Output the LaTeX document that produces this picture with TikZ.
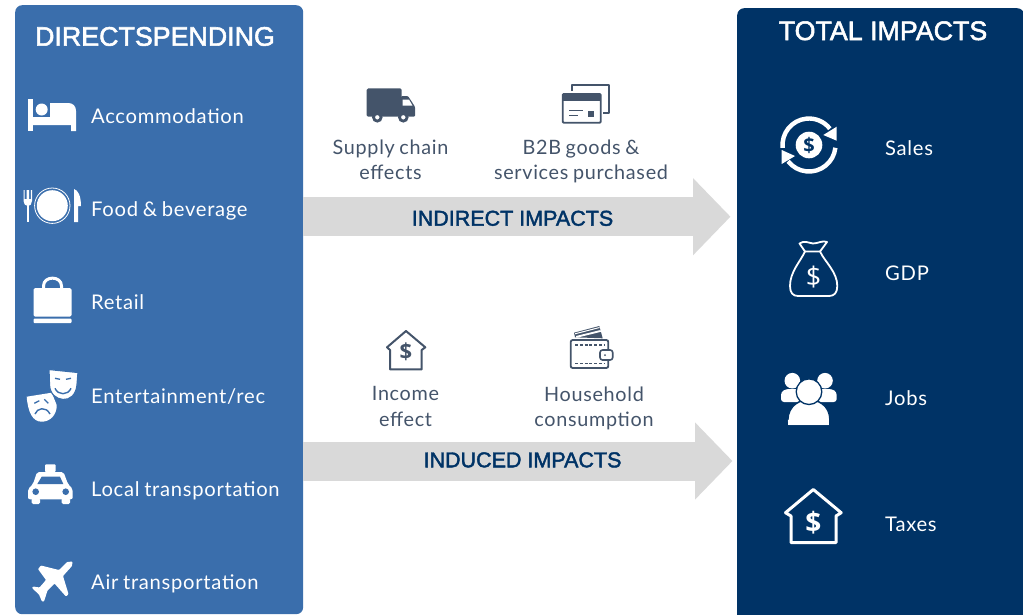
\documentclass[tikz,border=0pt]{standalone}
\usepackage{fontspec}
\usetikzlibrary{arrows.meta}
\setmainfont{Lato}
\newfontfamily\labelfont[LetterSpace=3.5,WordSpace=0.8]{Lato}
\newfontfamily\headfont[FakeBold=2]{Liberation Sans}
\newfontfamily\coinfont{Open Sans}
\definecolor{directblue}{HTML}{3A6EAC}
\definecolor{totalnavy}{HTML}{003366}
\definecolor{slategrey}{HTML}{44546A}
\definecolor{arrowgrey}{HTML}{D9D9D9}
\tikzset{
  panel/.style={rounded corners=7pt,anchor=north west,inner sep=0pt},
  spendlabel/.style={anchor=base west,inner sep=0pt,text=white,font=\labelfont\fontsize{20.2}{25}\selectfont},
  midlabel/.style={anchor=center,inner sep=0pt,align=center,text=slategrey,font=\labelfont\fontsize{19.8}{25.5}\selectfont},
  headtext/.style={anchor=base,inner sep=0pt,font=\headfont\fontsize{26.8}{30}\selectfont,text=white},
  impacttext/.style={anchor=base,inner sep=0pt,font=\headfont\fontsize{21.5}{26}\selectfont,text=totalnavy},
  impactarrow/.style={line width=39pt,draw=arrowgrey,-{Triangle[length=37.5pt,width=75pt,fill=arrowgrey]}},
  dollar/.style={inner sep=0pt,font=\coinfont},
  whiteline/.style={draw=white,fill=none,line width=#1,line join=round},
  slateline/.style={draw=slategrey,fill=none,line width=#1,line join=round},
}
\begin{document}
\begin{tikzpicture}[x=1pt,y=-1pt]
\useasboundingbox (0,0) rectangle (1023,614);
%Panels
\node[panel,fill=directblue,minimum width=288pt,minimum height=609pt] (direct) at (15,5) {};
\node[panel,fill=totalnavy,minimum width=287pt,minimum height=630pt] (total) at (737,8) {};
\node[headtext] (directhead) at (155,45.7) {DIRECTSPENDING};
\node[headtext] (totalhead) at (883,40) {TOTAL IMPACTS};
%Impact arrows
\coordinate (indirectend) at (730.5,216.7);
\coordinate (inducedend) at (732.5,461);
\draw[impactarrow] (direct.east |- indirectend) -- (indirectend);
\draw[impactarrow] (direct.east |- inducedend) -- (inducedend);
\node[impacttext] (indirect) at (512.5,225.7) {INDIRECT IMPACTS};
\node[impacttext] (induced) at (522.5,467.3) {INDUCED IMPACTS};
%Direct spending labels
\node[spendlabel] (accom) at (91,123) {Accommodation};
\node[spendlabel] (food) at (91,216) {Food \& beverage};
\node[spendlabel] (retail) at (91,309) {Retail};
\node[spendlabel] (enter) at (91,403.2) {Entertainment/rec};
\node[spendlabel] (local) at (91,496.2) {Local transportation};
\node[spendlabel] (air) at (91,589) {Air transportation};
%Total labels
\node[spendlabel] (sales) at (885,155) {Sales};
\node[spendlabel] (gdp) at (885,280) {GDP};
\node[spendlabel] (jobs) at (885,405) {Jobs};
\node[spendlabel] (taxes) at (885,531) {Taxes};
%Middle labels
\node[midlabel] (supply) at (390.5,160) {Supply chain\\effects};
\node[midlabel] (btob) at (581,161.5) {B2B goods \&\\services purchased};
\node[midlabel] (income) at (405.5,406.7) {Income\\effect};
\node[midlabel] (house) at (594,408.2) {Household\\consumption};
%Bed
\fill[white] (28.3,99) rectangle (32.5,131);
\fill[white] (32.5,117) -- (50,117) -- (50,103) -- (68,103) .. controls (73,103) and (76,106) .. (76,111) -- (76,131) -- (71,131) -- (71,125) -- (32.5,125) -- cycle;
\fill[white] (41.7,109.5) circle (6);
%Fork plate knife
\fill[white] (26.5,205) rectangle (29,222);
\fill[white] (23.5,190) -- (24.7,190) -- (24.7,199) -- (26.5,199) -- (26.5,190) -- (29,190) -- (29,199) -- (30.8,199) -- (30.8,190) -- (32,190) -- (32,201) .. controls (32,204) and (30,206) .. (28,206) .. controls (25.5,206) and (23.5,204) .. (23.5,201) -- cycle;
\draw[whiteline=0.8pt] (52.3,205.7) circle (17.7);
\fill[white] (52.3,205.7) circle (15.5);
\fill[white] (74,189) .. controls (78,190) and (81,196) .. (81,206) -- (78,206) -- (78,222) -- (74,222) -- cycle;
%Bag
\draw[whiteline=3pt] (43.5,289) -- (43.5,286) .. controls (43.5,275.5) and (61.5,275.5) .. (61.5,286) -- (61.5,289);
\fill[white,rounded corners=1.5pt] (33.5,288) rectangle (71.5,316.5);
\fill[white,rounded corners=1pt] (33.5,318.5) rectangle (71.5,323);
%Masks
\fill[white] (26.7,396.7) -- (51.7,392.7) -- (56.7,405) .. controls (57,415) and (50,421.7) .. (41.7,421.7) .. controls (33,421.7) and (28,413) .. (26.7,396.7) -- cycle;
\draw[directblue,line width=1.4pt] (35,414) .. controls (37,408) and (46,406) .. (50,414);
\draw[directblue,line width=1.3pt] (34.3,403.3) -- (39.3,400.7) (44.3,399.3) -- (48.3,403.3);
\filldraw[fill=white,draw=directblue,line width=1.2pt] (49,369.5) -- (78,372.5) -- (77,385) .. controls (76,395) and (70,400) .. (63,399.5) .. controls (56,399) and (50,394) .. (49.5,385) -- cycle;
\draw[directblue,line width=1.3pt] (55,378.3) -- (60,379.3) (66,379.3) -- (71,378.3);
\draw[directblue,line width=1.4pt] (55,388.3) .. controls (58,395.5) and (68,395.5) .. (71,388.3);
%Taxi
\fill[white,rounded corners=1pt] (45,464.3) rectangle (55.7,472);
\fill[white,rounded corners=2pt] (28,499.3) -- (28,489) -- (33,484) -- (37,472) -- (63.5,472) -- (68,484) -- (72.7,489) -- (72.7,499.3) -- cycle;
\fill[white,rounded corners=1.5pt] (31.7,498) rectangle (40,504);
\fill[white,rounded corners=1.5pt] (61.7,498) rectangle (70,504);
\fill[directblue] (41.7,476.7) -- (60,476.7) -- (63.3,484) -- (37.3,484) -- cycle;
\fill[directblue] (35.7,491.7) circle (3.3) (65.7,491.7) circle (3.3);
%Plane
\fill[white,line join=round,rounded corners=0.8pt] (72.5,561.5) -- (72,566) -- (63,576) -- (68.5,594) -- (66,596.5) -- (54.5,583.5) -- (47.5,590.5) -- (44,601.5) -- (42,601.5) -- (39,594.5) -- (32,588) -- (33,586.5) -- (39.5,587.5) -- (46,580) -- (38,569) -- (41,565.5) -- (59,570) -- (67,562) -- cycle;
%Truck
\fill[slategrey,rounded corners=1.5pt] (366.7,88.3) rectangle (401.7,116.7);
\fill[slategrey,rounded corners=1pt] (401,96) -- (408,96) -- (415,106.7) -- (415,116.7) -- (401,116.7) -- cycle;
\fill[white] (402.5,99.5) -- (409,99.5) -- (412.5,105.7) -- (402.5,105.7) -- cycle;
\filldraw[fill=white,draw=slategrey,line width=2.8pt] (377.3,117.3) circle (3.8) (403.3,117.3) circle (3.8);
%Cards
\draw[slateline=1.7pt] (571.7,91) -- (571.7,85) -- (609.3,85) -- (609.3,113.3) -- (603,113.3);
\draw[slateline=1.9pt,fill=white,rounded corners=1pt] (562.7,94) rectangle (600.7,122.7);
\fill[slategrey] (562.7,95) rectangle (600.7,100.7);
\draw[slateline=1.4pt] (569.3,110.7) -- (583.3,110.7) (569.3,115.7) -- (578.3,115.7);
\fill[slategrey] (588.3,110.7) rectangle (594,116.7);
%Income house
\draw[slateline=2pt,fill=white] (390,369.3) -- (390,350) -- (387,347.3) -- (406,331) -- (425.3,347.3) -- (421.7,350) -- (421.7,369.3) -- cycle;
\node[dollar,text=slategrey,font=\coinfont\bfseries\fontsize{22}{22}\selectfont] (incomedollar) at (406,352.2) {\$};
%Wallet
\fill[slategrey] (575,337.3) -- (574,332.7) -- (599.3,326) -- (602.7,338.3) -- cycle;
\draw[white,line width=1pt] (575,333.8) -- (599.5,327.5);
\fill[white] (576,336) -- (600.5,330) -- (601,331.8) -- (576.5,337.8) -- cycle;
\draw[slateline=1.8pt,rounded corners=2pt] (570.7,340) rectangle (608.3,368);
\draw[slategrey,line width=1.3pt,dash pattern=on 3pt off 1.8pt] (575,345) -- (605,345) (575,363.3) -- (605,363.3);
\draw[slateline=1.6pt,fill=white,rounded corners=2.5pt] (600,350) rectangle (612.7,360);
\fill[slategrey] (605,355) circle (1);
%Sales
\draw[whiteline=4.4pt] (809,145) ++(-186:26.5) arc (-186:-38:26.5);
\draw[whiteline=4.4pt] (809,145) ++(6:26.5) arc (6:142:26.5);
\fill[white] (836.7,126.7) -- (836.7,140.7) -- (823.3,135) -- cycle;
\fill[white] (781.7,150) -- (781.7,164) -- (795,156) -- cycle;
\fill[white] (809,145) circle (13.3);
\node[dollar,text=totalnavy,font=\coinfont\bfseries\fontsize{20}{20}\selectfont] (salesdollar) at (809,145) {\$};
%Money bag
\draw[whiteline=1.8pt] (805,251.5) .. controls (800,262) and (790,272) .. (790,286) .. controls (790,293) and (793,296) .. (798,296) -- (829,296) .. controls (834,296) and (837.3,293) .. (837.3,286) .. controls (837.3,272) and (825,262) .. (820,251.5) -- cycle;
\draw[whiteline=1.8pt] (805,251.5) -- (799.5,243.5) .. controls (804,240) and (809,243) .. (813,243.5) .. controls (818,243.5) and (823,240) .. (827,242) -- (820,251.5);
\node[dollar,text=white,font=\coinfont\fontsize{27}{27}\selectfont] (gdpdollar) at (813.7,276.7) {\$};
%People
\fill[white] (792.3,380.7) circle (7.8) (825,380.7) circle (7.8);
\fill[white,rounded corners=3pt] (781,402) -- (781,392) -- (786,389) -- (800,389) -- (800,402) -- cycle;
\fill[white,rounded corners=3pt] (836.7,402) -- (836.7,392) -- (832,389) -- (818,389) -- (818,402) -- cycle;
\filldraw[fill=white,draw=totalnavy,line width=1.3pt] (788.3,425) .. controls (786,410) and (795,400) .. (809,400) .. controls (823,400) and (832,410) .. (829.3,425) -- cycle;
\fill[white] (788.3,420) rectangle (829.3,425);
\filldraw[fill=white,draw=totalnavy,line width=1.3pt] (809,391.7) circle (12.8);
%Taxes house
\draw[whiteline=3pt] (791,542.7) -- (791,516) -- (785.5,512.7) -- (813.3,489.5) -- (841.2,512.7) -- (836,516) -- (836,542.7) -- cycle;
\node[dollar,text=white,font=\coinfont\bfseries\fontsize{28}{28}\selectfont] (taxdollar) at (813.3,522.2) {\$};
\end{tikzpicture}
\end{document}
